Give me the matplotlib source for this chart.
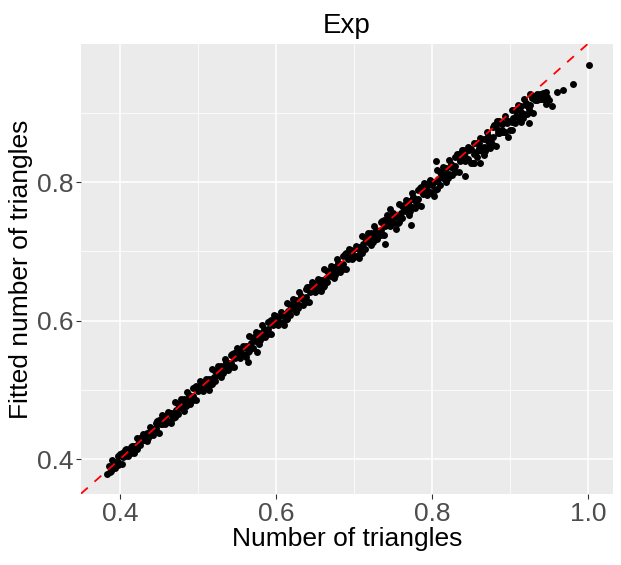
import numpy as np
import matplotlib
matplotlib.use('Agg')
import matplotlib.pyplot as plt
from matplotlib.ticker import FixedLocator

plt.rcParams['font.family'] = ['Liberation Sans', 'DejaVu Sans']

# --------------------------------------
# Data
# --------------------------------------
# outer band of points (first pass)
x_band = [0.386, 0.390, 0.394, 0.398, 0.402, 0.406, 0.410, 0.414, 0.418, 0.422, 0.426, 0.430,
          0.434, 0.438, 0.442, 0.446, 0.450, 0.454, 0.458, 0.462, 0.466, 0.470, 0.474, 0.478,
          0.482, 0.486, 0.490, 0.494, 0.498, 0.502, 0.506, 0.510, 0.514, 0.518, 0.522, 0.526,
          0.530, 0.534, 0.538, 0.542, 0.546, 0.550, 0.554, 0.558, 0.562, 0.566, 0.570, 0.574,
          0.578, 0.582, 0.586, 0.590, 0.594, 0.598, 0.602, 0.606, 0.610, 0.614, 0.618, 0.622,
          0.626, 0.630, 0.634, 0.638, 0.642, 0.646, 0.650, 0.654, 0.658, 0.662, 0.666, 0.670,
          0.674, 0.678, 0.682, 0.686, 0.690, 0.694, 0.698, 0.702, 0.706, 0.710, 0.714, 0.718,
          0.722, 0.726, 0.730, 0.734, 0.738, 0.742, 0.746, 0.750, 0.754, 0.758, 0.762, 0.766,
          0.770, 0.774, 0.778, 0.782, 0.786, 0.790, 0.794, 0.798, 0.802, 0.806, 0.810, 0.814,
          0.818, 0.822, 0.826, 0.830, 0.834, 0.838, 0.842, 0.846, 0.850, 0.854, 0.858, 0.862,
          0.866, 0.870, 0.874, 0.878, 0.882, 0.886, 0.890, 0.894, 0.898, 0.902, 0.906, 0.910,
          0.914, 0.918, 0.922, 0.926, 0.930, 0.934, 0.938, 0.942, 0.946, 0.950]
y_band = [0.390, 0.387, 0.395, 0.392, 0.408, 0.405, 0.413, 0.409, 0.419, 0.415, 0.431, 0.428,
          0.438, 0.435, 0.443, 0.440, 0.457, 0.451, 0.461, 0.455, 0.467, 0.460, 0.479, 0.474,
          0.486, 0.481, 0.490, 0.485, 0.505, 0.499, 0.509, 0.503, 0.515, 0.508, 0.527, 0.522,
          0.534, 0.528, 0.538, 0.533, 0.553, 0.547, 0.557, 0.551, 0.563, 0.556, 0.575, 0.570,
          0.582, 0.576, 0.586, 0.581, 0.601, 0.595, 0.604, 0.597, 0.610, 0.602, 0.623, 0.617,
          0.630, 0.623, 0.633, 0.627, 0.649, 0.642, 0.652, 0.645, 0.658, 0.650, 0.671, 0.665,
          0.678, 0.671, 0.681, 0.675, 0.697, 0.690, 0.700, 0.693, 0.706, 0.698, 0.719, 0.713,
          0.726, 0.719, 0.729, 0.723, 0.745, 0.738, 0.748, 0.741, 0.752, 0.742, 0.766, 0.758,
          0.773, 0.764, 0.775, 0.767, 0.793, 0.784, 0.795, 0.786, 0.800, 0.790, 0.814, 0.806,
          0.821, 0.812, 0.823, 0.815, 0.841, 0.832, 0.843, 0.834, 0.848, 0.828, 0.856, 0.846,
          0.862, 0.851, 0.863, 0.853, 0.883, 0.871, 0.884, 0.872, 0.889, 0.876, 0.904, 0.894,
          0.910, 0.899, 0.911, 0.901, 0.925, 0.919, 0.927, 0.920, 0.930, 0.918]

# outer band of points (second pass, in between)
x_band2 = [0.388, 0.392, 0.396, 0.400, 0.404, 0.408, 0.412, 0.416, 0.420, 0.424, 0.428, 0.432,
           0.436, 0.440, 0.444, 0.448, 0.452, 0.456, 0.460, 0.464, 0.468, 0.472, 0.476, 0.480,
           0.484, 0.488, 0.492, 0.496, 0.500, 0.504, 0.508, 0.512, 0.516, 0.520, 0.524, 0.528,
           0.532, 0.536, 0.540, 0.544, 0.548, 0.552, 0.556, 0.560, 0.564, 0.568, 0.572, 0.576,
           0.580, 0.584, 0.588, 0.592, 0.596, 0.600, 0.604, 0.608, 0.612, 0.616, 0.620, 0.624,
           0.628, 0.632, 0.636, 0.640, 0.644, 0.648, 0.652, 0.656, 0.660, 0.664, 0.668, 0.672,
           0.676, 0.680, 0.684, 0.688, 0.692, 0.696, 0.700, 0.704, 0.708, 0.712, 0.716, 0.720,
           0.724, 0.728, 0.732, 0.736, 0.740, 0.744, 0.748, 0.752, 0.756, 0.760, 0.764, 0.768,
           0.772, 0.776, 0.780, 0.784, 0.788, 0.792, 0.796, 0.800, 0.804, 0.808, 0.812, 0.816,
           0.820, 0.824, 0.828, 0.832, 0.836, 0.840, 0.844, 0.848, 0.852, 0.856, 0.860, 0.864,
           0.868, 0.872, 0.876, 0.880, 0.884, 0.888, 0.892, 0.896, 0.900, 0.904, 0.908, 0.912,
           0.916, 0.920, 0.924, 0.928, 0.932, 0.936, 0.940, 0.944, 0.948]
y_band2 = [0.382, 0.396, 0.393, 0.407, 0.403, 0.414, 0.408, 0.418, 0.414, 0.424, 0.432, 0.428,
           0.430, 0.444, 0.441, 0.455, 0.450, 0.462, 0.454, 0.466, 0.459, 0.471, 0.480, 0.475,
           0.476, 0.492, 0.487, 0.504, 0.498, 0.510, 0.502, 0.514, 0.507, 0.519, 0.528, 0.523,
           0.524, 0.540, 0.535, 0.552, 0.546, 0.558, 0.550, 0.562, 0.555, 0.567, 0.576, 0.571,
           0.572, 0.588, 0.583, 0.600, 0.594, 0.606, 0.596, 0.609, 0.601, 0.614, 0.624, 0.617,
           0.618, 0.635, 0.630, 0.648, 0.641, 0.654, 0.644, 0.657, 0.649, 0.662, 0.672, 0.665,
           0.666, 0.683, 0.678, 0.696, 0.689, 0.702, 0.692, 0.705, 0.697, 0.710, 0.720, 0.713,
           0.714, 0.731, 0.726, 0.744, 0.737, 0.750, 0.740, 0.752, 0.741, 0.756, 0.767, 0.758,
           0.758, 0.778, 0.771, 0.792, 0.783, 0.798, 0.785, 0.800, 0.789, 0.804, 0.815, 0.806,
           0.806, 0.826, 0.819, 0.840, 0.831, 0.846, 0.833, 0.848, 0.827, 0.844, 0.856, 0.845,
           0.845, 0.867, 0.858, 0.882, 0.871, 0.887, 0.872, 0.888, 0.875, 0.892, 0.904, 0.893,
           0.893, 0.915, 0.906, 0.922, 0.919, 0.926, 0.920, 0.928, 0.923]

# points along the upper edge of the band
x_upper = [0.390, 0.398, 0.406, 0.414, 0.422, 0.430, 0.438, 0.446, 0.454, 0.462, 0.470, 0.478,
           0.486, 0.494, 0.502, 0.510, 0.518, 0.526, 0.534, 0.542, 0.550, 0.558, 0.566, 0.574,
           0.582, 0.590, 0.598, 0.606, 0.614, 0.622, 0.630, 0.638, 0.646, 0.654, 0.662, 0.670,
           0.678, 0.686, 0.694, 0.702, 0.710, 0.718, 0.726, 0.734, 0.742, 0.750, 0.758, 0.766,
           0.774, 0.782, 0.790, 0.798, 0.806, 0.814, 0.822, 0.830, 0.838, 0.846, 0.854, 0.862,
           0.870, 0.878, 0.886, 0.894, 0.902, 0.910, 0.918, 0.926, 0.934, 0.942]
y_upper = [0.398, 0.404, 0.413, 0.418, 0.431, 0.436, 0.446, 0.452, 0.464, 0.468, 0.482, 0.487,
           0.497, 0.502, 0.512, 0.516, 0.530, 0.535, 0.545, 0.550, 0.560, 0.564, 0.578, 0.583,
           0.593, 0.598, 0.608, 0.612, 0.626, 0.631, 0.641, 0.646, 0.656, 0.660, 0.674, 0.679,
           0.689, 0.694, 0.704, 0.708, 0.722, 0.727, 0.737, 0.742, 0.752, 0.756, 0.769, 0.774,
           0.784, 0.789, 0.799, 0.803, 0.817, 0.822, 0.832, 0.837, 0.847, 0.851, 0.856, 0.864,
           0.872, 0.879, 0.888, 0.895, 0.904, 0.912, 0.920, 0.927, 0.928, 0.929]

# points along the lower edge of the band
x_lower = [0.394, 0.402, 0.410, 0.418, 0.426, 0.434, 0.442, 0.450, 0.458, 0.466, 0.474, 0.482,
           0.490, 0.498, 0.506, 0.514, 0.522, 0.530, 0.538, 0.546, 0.554, 0.562, 0.570, 0.578,
           0.586, 0.594, 0.602, 0.610, 0.618, 0.626, 0.634, 0.642, 0.650, 0.658, 0.666, 0.674,
           0.682, 0.690, 0.698, 0.706, 0.714, 0.722, 0.730, 0.738, 0.746, 0.754, 0.762, 0.770,
           0.778, 0.786, 0.794, 0.802, 0.810, 0.818, 0.826, 0.834, 0.842, 0.850, 0.858, 0.866,
           0.874, 0.882, 0.890, 0.898, 0.906, 0.914, 0.922, 0.930, 0.938, 0.946]
y_lower = [0.387, 0.393, 0.405, 0.408, 0.420, 0.426, 0.435, 0.437, 0.450, 0.452, 0.465, 0.470,
           0.480, 0.485, 0.498, 0.500, 0.513, 0.518, 0.528, 0.533, 0.546, 0.548, 0.561, 0.566,
           0.576, 0.581, 0.593, 0.594, 0.608, 0.613, 0.622, 0.627, 0.641, 0.642, 0.656, 0.661,
           0.670, 0.675, 0.689, 0.690, 0.704, 0.709, 0.718, 0.723, 0.737, 0.732, 0.748, 0.752,
           0.762, 0.766, 0.782, 0.780, 0.796, 0.800, 0.810, 0.814, 0.830, 0.828, 0.837, 0.839,
           0.850, 0.852, 0.872, 0.865, 0.885, 0.887, 0.898, 0.900, 0.920, 0.913]

# dense core near the diagonal
x_core = [0.392, 0.398, 0.404, 0.410, 0.416, 0.422, 0.428, 0.434, 0.440, 0.446, 0.452, 0.458,
          0.464, 0.470, 0.476, 0.482, 0.488, 0.494, 0.500, 0.506, 0.512, 0.518, 0.524, 0.530,
          0.536, 0.542, 0.548, 0.554, 0.560, 0.566, 0.572, 0.578, 0.584, 0.590, 0.596, 0.602,
          0.608, 0.614, 0.620, 0.626, 0.632, 0.638, 0.644, 0.650, 0.656, 0.662, 0.668, 0.674,
          0.680, 0.686, 0.692, 0.698, 0.704, 0.710, 0.716, 0.722, 0.728, 0.734, 0.740, 0.746,
          0.752, 0.758, 0.764, 0.770, 0.776, 0.782, 0.788, 0.794, 0.800, 0.806, 0.812, 0.818,
          0.824, 0.830, 0.836, 0.842, 0.848, 0.854, 0.860, 0.866, 0.872, 0.878, 0.884, 0.890,
          0.896, 0.902, 0.908, 0.914, 0.920, 0.926, 0.932]
y_core = [0.394, 0.395, 0.404, 0.409, 0.419, 0.420, 0.430, 0.431, 0.440, 0.445, 0.454, 0.455,
          0.465, 0.466, 0.475, 0.480, 0.490, 0.491, 0.501, 0.502, 0.511, 0.516, 0.526, 0.527,
          0.537, 0.538, 0.547, 0.552, 0.562, 0.563, 0.573, 0.574, 0.583, 0.588, 0.598, 0.598,
          0.608, 0.609, 0.618, 0.623, 0.633, 0.634, 0.644, 0.645, 0.654, 0.659, 0.669, 0.670,
          0.680, 0.681, 0.690, 0.695, 0.705, 0.706, 0.716, 0.717, 0.726, 0.731, 0.741, 0.742,
          0.750, 0.751, 0.760, 0.765, 0.775, 0.776, 0.786, 0.787, 0.796, 0.801, 0.811, 0.812,
          0.822, 0.823, 0.832, 0.837, 0.847, 0.840, 0.850, 0.851, 0.860, 0.865, 0.875, 0.876,
          0.886, 0.887, 0.896, 0.901, 0.911, 0.912, 0.922]

# stray points off the band
x_out = [0.383, 0.387, 0.564, 0.576, 0.740, 0.746, 0.773, 0.805, 0.842, 0.862,
         0.883, 0.924, 0.954, 0.960, 0.968, 0.981, 1.001]
y_out = [0.379, 0.381, 0.540, 0.554, 0.710, 0.761, 0.738, 0.831, 0.809, 0.827,
         0.888, 0.885, 0.910, 0.930, 0.933, 0.942, 0.969]

x_all = np.array(x_band + x_band2 + x_upper + x_lower + x_core + x_out)
y_all = np.array(y_band + y_band2 + y_upper + y_lower + y_core + y_out)

# --------------------------------------
# Plot
# --------------------------------------
fig = plt.figure(figsize=(6.21, 5.65), dpi=100)
ax = fig.add_axes([81/621, 1 - 494/565, 532/621, 450/565])
ax.set_facecolor('#EBEBEB')

ax.scatter(x_all, y_all, s=25, color='black', linewidths=0, zorder=3)
ax.axline((0.5, 0.5), slope=1, color='red', lw=1.3, ls=(0, (5, 5)), zorder=4)

ax.set_xlim(0.35, 1.032)
ax.set_ylim(0.3495, 0.9995)

ax.xaxis.set_major_locator(FixedLocator([0.4, 0.6, 0.8, 1.0]))
ax.xaxis.set_minor_locator(FixedLocator([0.5, 0.7, 0.9]))
ax.yaxis.set_major_locator(FixedLocator([0.4, 0.6, 0.8]))
ax.yaxis.set_minor_locator(FixedLocator([0.5, 0.7, 0.9]))
ax.set_xticklabels(['0.4', '0.6', '0.8', '1.0'])
ax.set_yticklabels(['0.4', '0.6', '0.8'])

ax.grid(which='major', color='white', lw=1.1, zorder=0)
ax.grid(which='minor', color='white', lw=0.55, zorder=0)
ax.set_axisbelow(True)
for s in ax.spines.values():
    s.set_visible(False)

ax.tick_params(which='major', length=3.5, width=0.8, color='#333333',
               labelcolor='#4D4D4D', labelsize=19, pad=2)
ax.tick_params(which='minor', length=0)

ax.set_xlabel('Number of triangles', fontsize=19, color='black', labelpad=1)
ax.set_ylabel('Fitted number of triangles', fontsize=19, color='black', labelpad=3)
ax.set_title('Exp', fontsize=20, color='black', pad=8)

fig.savefig('out.png', dpi=100)
